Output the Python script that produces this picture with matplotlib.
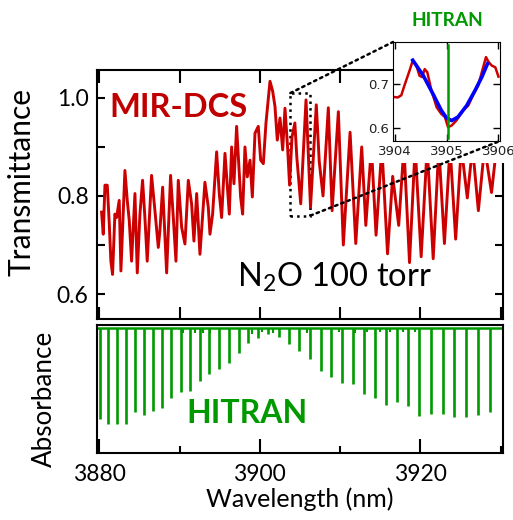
import matplotlib
matplotlib.use("Agg")
import matplotlib.pyplot as plt
from matplotlib.patches import Rectangle, ConnectionPatch

# MIR-DCS transmittance trace
dcs_nm = [3880.27, 3880.48, 3880.69, 3880.98, 3881.23, 3881.43, 3881.64, 3881.93, 3882.14, 3882.47,
          3882.68, 3883.18, 3883.47, 3883.72, 3884.01, 3884.43, 3884.72, 3885.05, 3885.38, 3885.67,
          3885.96, 3886.50, 3886.92, 3887.34, 3887.54, 3887.88, 3888.38, 3888.87, 3889.21, 3889.54,
          3889.83, 3890.25, 3890.66, 3891.08, 3891.49, 3891.78, 3892.12, 3892.53, 3893.15, 3893.57,
          3893.78, 3894.11, 3894.61, 3894.94, 3895.23, 3895.65, 3895.86, 3896.19, 3896.48, 3896.77,
          3897.10, 3897.60, 3897.85, 3898.14, 3898.43, 3898.77, 3899.06, 3899.39, 3899.80, 3900.10,
          3900.43, 3900.76, 3901.26, 3901.59, 3901.88, 3902.17, 3902.51, 3902.84, 3903.13, 3903.45,
          3903.70, 3904.00, 3904.36, 3904.60, 3905.09, 3905.75, 3906.00, 3906.31, 3907.03, 3907.40,
          3907.87, 3908.53, 3909.00, 3909.78, 3910.40, 3911.24, 3911.95, 3912.69, 3913.20, 3913.90,
          3914.48, 3915.20, 3915.91, 3916.55, 3917.30, 3917.95, 3918.65, 3919.35, 3920.10, 3920.85,
          3921.60, 3922.30, 3923.00, 3923.70, 3924.40, 3925.10, 3925.85, 3926.50, 3927.23, 3928.00,
          3928.87, 3929.50]
dcs_T = [0.767, 0.722, 0.822, 0.822, 0.743, 0.667, 0.640, 0.763, 0.756, 0.791,
         0.647, 0.852, 0.791, 0.750, 0.667, 0.805, 0.643, 0.763, 0.832, 0.756,
         0.667, 0.842, 0.770, 0.695, 0.729, 0.818, 0.643, 0.842, 0.756, 0.667,
         0.832, 0.736, 0.702, 0.832, 0.784, 0.708, 0.805, 0.681, 0.828, 0.777,
         0.722, 0.763, 0.890, 0.805, 0.756, 0.887, 0.839, 0.763, 0.900, 0.825,
         0.942, 0.798, 0.763, 0.900, 0.839, 0.873, 0.798, 0.928, 0.942, 0.873,
         0.866, 0.949, 1.034, 1.014, 0.983, 0.914, 0.959, 0.894, 0.979, 0.900,
         0.822, 0.920, 0.949, 0.880, 0.784, 0.996, 0.900, 0.777, 0.986, 0.870,
         0.800, 0.980, 0.770, 0.972, 0.700, 0.930, 0.703, 0.900, 0.740, 0.900,
         0.720, 0.900, 0.682, 0.840, 0.740, 0.900, 0.664, 0.900, 0.676, 0.900,
         0.672, 0.900, 0.703, 0.900, 0.712, 0.900, 0.796, 0.900, 0.770, 0.900,
         0.807, 0.900]

# inset: measured (red) and fitted (blue) around 3905 nm
inset_nm = [3904.00, 3904.06, 3904.13, 3904.19, 3904.29, 3904.35, 3904.42, 3904.48, 3904.53, 3904.58,
            3904.63, 3904.71, 3904.81, 3904.90, 3904.97, 3905.03, 3905.10, 3905.19, 3905.32, 3905.42,
            3905.51, 3905.61, 3905.68, 3905.76, 3905.81, 3905.87, 3905.94, 3906.00]
inset_T = [0.670, 0.669, 0.674, 0.696, 0.730, 0.752, 0.741, 0.718, 0.715, 0.733,
           0.726, 0.685, 0.647, 0.632, 0.625, 0.602, 0.606, 0.617, 0.640, 0.651,
           0.674, 0.696, 0.726, 0.760, 0.749, 0.741, 0.737, 0.716]
fit_nm = [3904.35, 3904.55, 3904.74, 3904.90, 3905.00, 3905.10, 3905.22, 3905.39, 3905.55, 3905.68, 3905.79]
fit_T = [0.753, 0.719, 0.677, 0.640, 0.623, 0.617, 0.625, 0.651, 0.685, 0.715, 0.745]
inset_line = 3905.02

# HITRAN stick spectrum (absorbance, arbitrary units)
hitran_nm = [3880.06, 3881.10, 3882.22, 3883.30, 3884.43, 3885.55, 3886.71, 3887.83, 3888.96, 3890.12,
             3891.28, 3892.53, 3893.69, 3894.94, 3896.11, 3897.36, 3898.56, 3899.80, 3901.05, 3902.42,
             3903.67, 3904.91, 3906.25, 3907.58, 3908.91, 3910.28, 3911.61, 3912.98, 3914.31, 3915.72,
             3917.09, 3918.50, 3919.88, 3921.33, 3922.79, 3924.24, 3925.70, 3927.16, 3928.67]
hitran_abs = [0.910, 0.957, 0.963, 0.957, 0.843, 0.870, 0.827, 0.803, 0.703, 0.643,
              0.630, 0.530, 0.463, 0.413, 0.353, 0.253, 0.153, 0.097, 0.063, 0.087,
              0.163, 0.230, 0.313, 0.427, 0.493, 0.553, 0.563, 0.663, 0.697, 0.770,
              0.743, 0.780, 0.877, 0.857, 0.863, 0.887, 0.893, 0.870, 0.837]
weak_nm = [3890.45, 3891.91, 3892.94, 3893.78, 3898.98, 3900.22, 3901.67, 3905.84, 3909.90,
           3911.86, 3913.32, 3914.98, 3916.22, 3917.88, 3919.34]
weak_abs = [0.05, 0.05, 0.05, 0.05, 0.06, 0.04, 0.05, 0.05, 0.04, 0.05, 0.04, 0.04, 0.04, 0.04, 0.04]

red = '#cc0000'
green = '#009900'
font = ['Lato', 'DejaVu Sans']
plt.rcParams['font.family'] = font
plt.rcParams['mathtext.fontset'] = 'custom'
plt.rcParams['mathtext.rm'] = 'Lato'

W, H = 513, 520
fig = plt.figure(figsize=(W / 100, H / 100), dpi=100)


def box(x0, y0, x1, y1):
    # pixel box (top-left origin) -> figure fraction rect
    return [x0 / W, 1 - y1 / H, (x1 - x0) / W, (y1 - y0) / H]


ax = fig.add_axes(box(97, 70, 503, 319))
ax2 = fig.add_axes(box(97, 325, 503, 453))
axi = fig.add_axes(box(393, 42, 500, 141), zorder=5)

# top panel
ax.plot(dcs_nm, dcs_T, color=red, lw=2.1, solid_joinstyle='round')
ax.set_xlim(3879.7, 3930.3)
ax.set_ylim(0.549, 1.057)
ax.set_yticks([0.6, 0.7, 0.8, 0.9, 1.0])
ax.set_yticklabels(['0.6', '', '0.8', '', '1.0'])
ax.set_xticks([3880, 3890, 3900, 3910, 3920, 3930])
ax.tick_params(axis='x', direction='in', top=True, bottom=True, labelbottom=False, length=9, width=1.5)
ax.tick_params(axis='y', direction='in', left=True, right=True, length=6, width=1.5, labelsize=16.5, pad=6)
for s in ax.spines.values():
    s.set_linewidth(1.5)
ax.set_ylabel('Transmittance', fontsize=21.5)
ax.yaxis.set_label_coords(-0.152, 0.55)
ax.text(3881.3, 0.962, 'MIR-DCS', color='#c00000', fontsize=23.5, fontweight='bold', va='baseline')
ax.text(3897.1, 0.616, r'N$_2$O 100 torr', color='black', fontsize=23.5, va='baseline')
ax.add_patch(Rectangle((3903.8, 0.76), 2.5, 0.25, fill=False, ls=':', lw=1.8, color='black'))

# white area behind the inset labels
fig.add_artist(Rectangle((366 / W, 1 - 163 / H), 140 / W, 91 / H, transform=fig.transFigure,
                         facecolor='white', edgecolor='none', zorder=1))
fig.add_artist(Rectangle((495 / W, 1 - 76 / H), 11 / W, 10 / H, transform=fig.transFigure,
                         facecolor='white', edgecolor='none', zorder=1))

# inset
axi.plot(inset_nm, inset_T, color=red, lw=1.8, solid_joinstyle='round')
axi.plot(fit_nm, fit_T, color='#0000ff', lw=2.6, solid_joinstyle='round')
axi.axvline(inset_line, color=green, lw=1.8, ymin=0.03, ymax=0.97)
axi.set_xlim(3903.97, 3906.03)
axi.set_ylim(0.571, 0.794)
axi.set_xticks([3904, 3905, 3906])
axi.set_yticks([0.6, 0.7])
axi.tick_params(direction='in', top=True, right=True, length=5, width=1.0, labelsize=9.5,
                labelcolor='#222222', pad=3)
for t in axi.get_xticklabels() + axi.get_yticklabels():
    t.set_family('DejaVu Sans')
fig.text(447 / W, 1 - 21 / H, 'HITRAN', color=green, fontsize=13.8, fontweight='bold', ha='center', va='center')

# zoom connectors
for xa, ya, xb, yb in [(3903.8, 1.01, 0, 1), (3906.3, 0.76, 1, 0)]:
    cp = ConnectionPatch((xa, ya), (xb, yb), coordsA='data', coordsB='axes fraction',
                         axesA=ax, axesB=axi, ls=':', lw=1.8, color='black', zorder=6)
    fig.add_artist(cp)

# bottom panel
ax2.axhline(0, color=green, lw=1.8)
ax2.vlines(hitran_nm, 0, hitran_abs, color=green, lw=1.9)
ax2.vlines(weak_nm, 0, weak_abs, color=green, lw=1.5)
ax2.set_xlim(3879.7, 3930.3)
ax2.set_ylim(1.25, -0.03)
ax2.set_yticks([])
ax2.set_xticks([3880, 3900, 3920])
ax2.set_xticks([3890, 3910, 3930], minor=True)
ax2.tick_params(axis='x', which='major', direction='in', length=10, width=1.5, labelsize=16.5, pad=8)
ax2.tick_params(axis='x', which='minor', direction='in', length=5, width=1.5)
for s in ax2.spines.values():
    s.set_linewidth(1.5)
ax2.set_ylabel('Absorbance', fontsize=18.7)
ax2.yaxis.set_label_coords(-0.099, 0.42)
ax2.set_xlabel('Wavelength (nm)', fontsize=18, labelpad=2)
ax2.text(3890.9, 0.95, 'HITRAN', color=green, fontsize=23, fontweight='bold', va='baseline')

fig.savefig('out.png', dpi=100)
